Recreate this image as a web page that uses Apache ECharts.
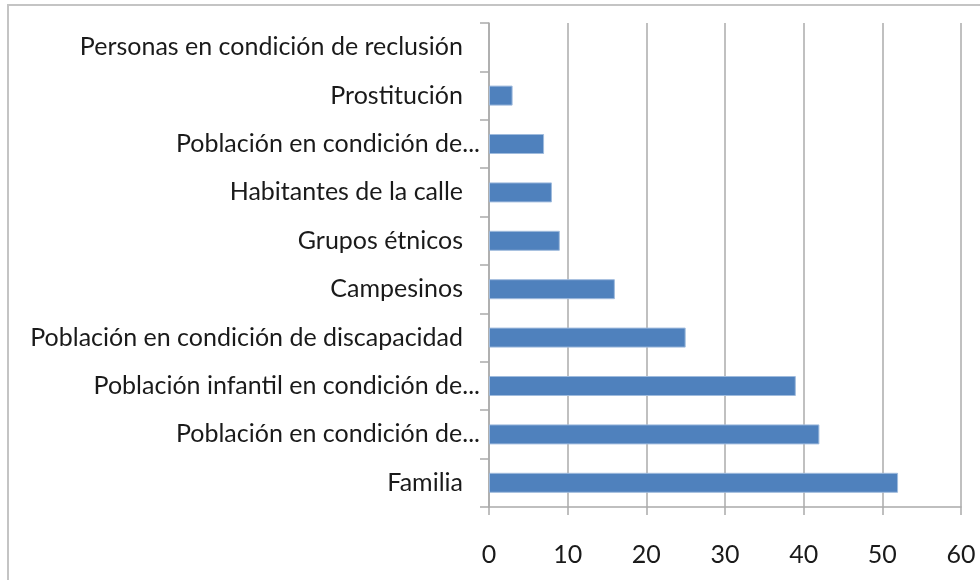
<!DOCTYPE html>
<html>
<head>
<meta charset="utf-8">
<script src="https://cdn.jsdelivr.net/npm/echarts@6/dist/echarts.min.js"></script>
<style>
  html, body { margin: 0; padding: 0; background: #fff; }
  #main { width: 980px; height: 580px; }
</style>
</head>
<body>
<div id="main"></div>
<script>
// categorias de abajo hacia arriba (como en el eje Y de la categoria)
const categorias = [
    'Familia',
    'Población en condición de...',
    'Población infantil en condición de...',
    'Población en condición de discapacidad',
    'Campesinos',
    'Grupos étnicos',
    'Habitantes de la calle',
    'Población en condición de...',
    'Prostitución',
    'Personas en condición de reclusión'
]
const valores = [52, 42, 39, 25, 16, 9, 8, 7, 3, 0]
const ticksX = [0, 10, 20, 30, 40, 50, 60]

const fuente = 'Lato'
const tam = 25
const gris = '#ababab'

const option = {
    animation: false,
    backgroundColor: '#fff',
    graphic: [{
        type: 'rect',
        shape: { x: 8, y: 5, width: 1000, height: 600 },
        style: { fill: 'none', stroke: '#c4c4c4', lineWidth: 2 },
        silent: true
    }],
    grid: {
        left: 489,
        right: 19,
        top: 23,
        bottom: 73
    },
    xAxis: {
        type: 'value',
        min: ticksX[0],
        max: ticksX[ticksX.length - 1],
        interval: 10,
        axisLine: { show: true, lineStyle: { color: gris, width: 1.5 } },
        axisTick: { show: true, length: 8, lineStyle: { color: gris, width: 1.5 } },
        splitLine: { show: true, lineStyle: { color: gris, width: 1.5 } },
        axisLabel: {
            margin: 35,
            fontFamily: fuente,
            fontSize: tam,
            color: '#1a1a1a'
        }
    },
    yAxis: {
        type: 'category',
        data: categorias,
        axisLine: { show: true, lineStyle: { color: gris, width: 1.5 } },
        axisTick: { show: true, length: 9, lineStyle: { color: gris, width: 1.5 } },
        axisLabel: {
            margin: 9,
            fontFamily: fuente,
            fontSize: tam,
            color: '#1a1a1a',
            formatter: function (v) {
                return v.endsWith('...') ? '{cut|' + v + '}' : '{full|' + v + '}'
            },
            rich: {
                cut: { fontFamily: fuente, fontSize: tam, color: '#1a1a1a' },
                full: { fontFamily: fuente, fontSize: tam, color: '#1a1a1a', padding: [0, 17, 0, 0] }
            }
        }
    },
    series: [{
        type: 'bar',
        data: valores.map(v => ({
            value: v,
            itemStyle: { borderWidth: v === 0 ? 0 : 1 }
        })),
        barWidth: 20,
        itemStyle: {
            color: '#4f81bd',
            borderColor: '#9fbbdd',
            borderWidth: 1
        }
    }]
}

let myChart = echarts.init(document.getElementById('main'))
myChart.setOption(option, true)
</script>
</body>
</html>
